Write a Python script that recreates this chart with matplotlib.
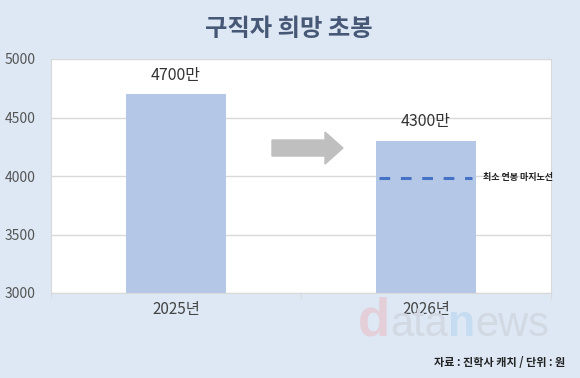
import matplotlib
matplotlib.use("Agg")
import matplotlib.pyplot as plt
import matplotlib.patches as mpatches

plt.rcParams['font.family'] = ['Noto Sans CJK KR', 'DejaVu Sans']

# data
years = ["2025년", "2026년"]
salaries = [4700, 4300]
salary_labels = ["4700만", "4300만"]
min_line = 3985
min_line_label = "최소 연봉 마지노선"
yticks = [3000, 3500, 4000, 4500, 5000]

bg = "#DDE8F4"
bar_color = "#B4C7E7"

fig = plt.figure(figsize=(5.8, 3.78), dpi=100, facecolor=bg)

# watermark behind everything (drawn first, letter by letter)
renderer = fig.canvas.get_renderer()
wm = [("d", 38, "bold", "#E4CFD9"), ("ata", 30, "normal", "#D2D9E3"),
      ("n", 32, "bold", "#C6DCF1"), ("ews", 30, "normal", "#D2D9E3")]
px = 358
for txt, size, weight, col in wm:
    t = fig.text(px / 580, 1 - 336 / 378, txt, fontsize=size, fontweight=weight,
                 color=col, ha="left", va="baseline", family="Liberation Sans")
    px += t.get_window_extent(renderer).width

ax = fig.add_axes([51 / 580, 85 / 378, 500 / 580, 234 / 378])
ax.set_facecolor("white")

x = range(len(years))
ax.bar(x, salaries, width=0.4, color=bar_color, zorder=2)
for xi, v, lab in zip(x, salaries, salary_labels):
    ax.text(xi, v + 90, lab, ha="center", va="bottom", fontsize=11.5, color="#333333")

ax.set_xlim(-0.5, 1.5)
ax.set_ylim(3000, 5000)
ax.set_yticks(yticks)
ax.set_yticklabels([str(t) for t in yticks], fontsize=10, color="#555555")
ax.set_xticks(list(x))
ax.set_xticklabels(years, fontsize=11, color="#444444")
ax.set_xticks([-0.5, 0.5, 1.5], minor=True)
ax.tick_params(axis="x", which="major", length=0, pad=6)
ax.tick_params(axis="x", which="minor", length=4, color="#D9D9D9")
ax.tick_params(axis="y", length=0, pad=11)
ax.grid(axis="y", color="#D9D9D9", linewidth=1, zorder=1)
for s in ax.spines.values():
    s.set_color("#D9D9D9")

# minimum salary line
ax.plot([0.812, 1.184], [min_line, min_line], color="#4472C4", linewidth=2.2,
        dashes=(3.5, 3.5), zorder=3)
ax.text(1.228, min_line, min_line_label, fontsize=6.5, fontweight="bold",
        va="center", ha="left", color="#222222", clip_on=False)

# arrow between bars
arrow = mpatches.FancyArrow(0.384, 4239, 0.284, 0, width=137, head_width=274,
                            head_length=0.072, length_includes_head=True,
                            color="#BFBFBF", zorder=3)
ax.add_patch(arrow)

fig.text(289 / 580, 1 - 29 / 378, "구직자 희망 초봉", ha="center", va="center",
         fontsize=17.5, fontweight="bold", color="#475877")

fig.text(565 / 580, 1 - 363 / 378, "자료 : 진학사 캐치 / 단위 : 원", ha="right",
         va="center", fontsize=8, fontweight="bold", color="#222222")

fig.savefig("out.png", dpi=100, facecolor=bg)
